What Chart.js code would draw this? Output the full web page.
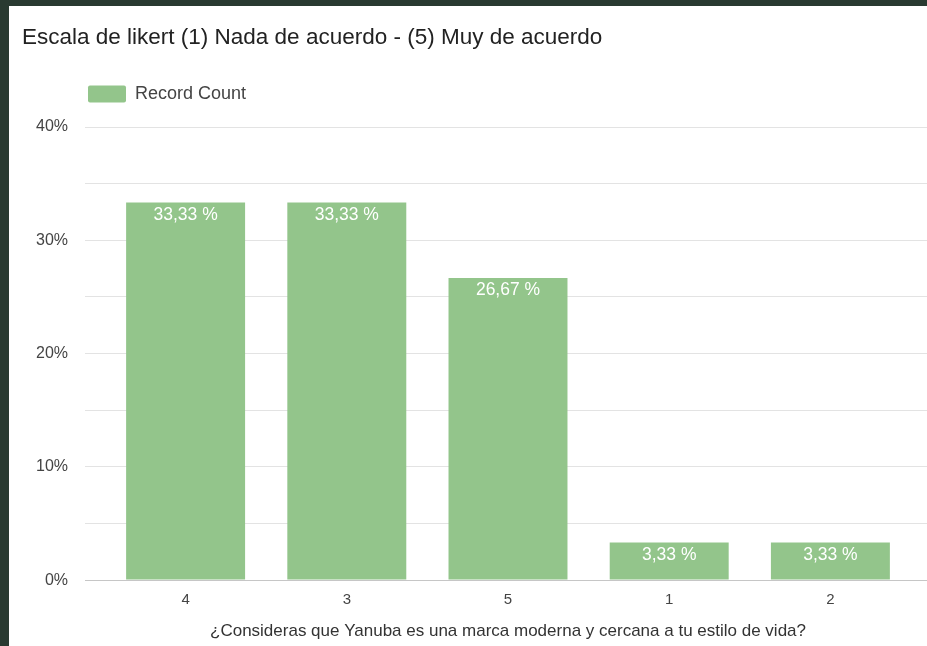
<!DOCTYPE html>
<html>
<head>
<meta charset="utf-8">
<title>Escala de likert</title>
<script src="https://cdn.jsdelivr.net/npm/chart.js@4.4.1/dist/chart.umd.min.js"></script>
<style>
    body { margin: 0; background: #293a31; width: 927px; height: 646px; overflow: hidden; }
    #wrap { position: absolute; left: 9px; top: 6px; width: 918px; height: 640px; background: #fff; }
</style>
</head>
<body>
<div id="wrap"><canvas id="likertChart" width="918" height="640"></canvas></div>
<script>
// Datos del gráfico
const categories = ['4', '3', '5', '1', '2'];
const percentages = [33.33, 33.33, 26.67, 3.33, 3.33];
const seriesName = 'Record Count';
const chartTitle = 'Escala de likert (1) Nada de acuerdo - (5) Muy de acuerdo';
const xTitle = '¿Consideras que Yanuba es una marca moderna y cercana a tu estilo de vida?';

const barColor = '#93c58b';
const fontFamily = '"Liberation Sans", Arial, sans-serif';

// color de las líneas de la cuadrícula (base más oscura)
const gridColor = ctx => ctx.tick && ctx.tick.value === 0 ? '#c6c6c6' : '#e3e3e3';

// etiquetas blancas dentro de cada barra
const barLabels = {
    id: 'barLabels',
    afterDatasetsDraw(chart) {
        const ctx = chart.ctx;
        const meta = chart.getDatasetMeta(0);
        ctx.save();
        ctx.fillStyle = '#fff';
        ctx.font = '17.5px ' + fontFamily;
        ctx.textAlign = 'center';
        ctx.textBaseline = 'middle';
        meta.data.forEach((bar, i) => {
            const txt = percentages[i].toFixed(2).replace('.', ',') + ' %';
            ctx.fillText(txt, bar.x, bar.y + 12.5);
        });
        ctx.restore();
    }
};

// colocar la leyenda sobre la cuadrícula, como en el original
const legendShift = {
    id: 'legendShift',
    afterLayout(chart) {
        if (!chart.legend) return;
        chart.legend.left = 69;
        chart.legend.top = 69;
    }
};

new Chart(document.getElementById('likertChart'), {
    type: 'bar',
    data: {
        labels: categories,
        datasets: [{
            label: seriesName,
            data: percentages,
            backgroundColor: barColor,
            borderWidth: 0,
            barPercentage: 0.738,
            categoryPercentage: 1
        }]
    },
    options: {
        responsive: false,
        animation: false,
        devicePixelRatio: 1,
        layout: { padding: { left: 13, right: 0, top: 0, bottom: 0 } },
        plugins: {
            title: {
                display: true,
                text: chartTitle,
                align: 'start',
                color: '#222',
                font: { family: fontFamily, size: 22.5, weight: 'normal' },
                padding: { top: 18, bottom: 38 }
            },
            legend: {
                display: true,
                align: 'start',
                labels: {
                    boxWidth: 38,
                    boxHeight: 17,
                    padding: 10,
                    color: '#444',
                    useBorderRadius: true,
                    borderRadius: 2,
                    font: { family: fontFamily, size: 18 }
                }
            },
            tooltip: { enabled: false }
        },
        scales: {
            x: {
                grid: { display: false, drawTicks: false },
                border: { display: false },
                ticks: {
                    color: '#444',
                    padding: 11,
                    font: { family: fontFamily, size: 15 }
                },
                title: {
                    display: true,
                    text: xTitle,
                    color: '#333',
                    font: { family: fontFamily, size: 17 },
                    padding: { top: 1.5, bottom: 4 }
                }
            },
            y: {
                min: 0,
                max: 40,
                afterFit(scale) { scale.width = 83; },
                border: { display: false },
                grid: { color: gridColor, tickLength: 20 },
                ticks: {
                    stepSize: 5,
                    padding: 17,
                    color: '#444',
                    font: { family: fontFamily, size: 16 },
                    callback: v => v % 10 === 0 ? v + '%' : ''
                }
            },
            yRight: {
                position: 'right',
                min: 0,
                max: 40,
                border: { display: false },
                grid: { color: gridColor, tickLength: 16, drawOnChartArea: false },
                ticks: { stepSize: 5, display: false }
            }
        }
    },
    plugins: [barLabels, legendShift]
});
</script>
</body>
</html>
